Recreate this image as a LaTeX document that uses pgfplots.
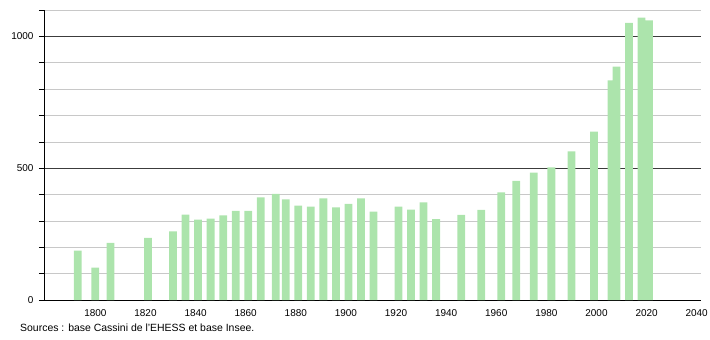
\documentclass[border=0pt]{standalone}
\usepackage{pgfplots}
\pgfplotsset{compat=1.18}
\usepackage{fontspec}
\setmainfont{Liberation Sans}
\definecolor{barg}{RGB}{172,228,172}
\definecolor{minorg}{RGB}{200,200,200}
\definecolor{majorg}{RGB}{60,60,60}
\begin{document}
\begin{tikzpicture}
\path[use as bounding box] (-44bp,-40bp) rectangle (666bp,300bp);
\begin{axis}[
  at={(0,0)}, anchor=south west,
  scale only axis, width=656.7bp, height=290bp,
  xmin=1779.5, xmax=2041.6, ymin=0, ymax=1100,
  axis lines*=left,
  axis line style={black, line width=0.8pt},
  xtick={1800,1820,...,2040},
  major x tick style={draw=none},
  ytick={0,500,1000},
  minor ytick={100,200,300,400,600,700,800,900,1100},
  tick align=outside,
  major tick length=5bp, minor tick length=5bp,
  y tick style={black, line width=0.6pt},
  ymajorgrids, yminorgrids,
  major y grid style={majorg, line width=0.6pt},
  minor y grid style={minorg, line width=0.6pt},
  /pgf/number format/assume math mode=true,
  /pgf/number format/1000 sep={},
  tick label style={font=\fontsize{10}{11}\selectfont},
  xticklabel style={yshift=-1.5bp},
  yticklabel style={xshift=-2bp},
  ybar, bar width=3.1, bar shift=0pt,
  clip=false,
]
\addplot[fill=barg, draw=none] coordinates {
(1793,187) (1800,123) (1806,217) (1821,236) (1831,260) (1836,324) (1841,305)
(1846,309) (1851,321) (1856,338) (1861,338) (1866,389) (1872,403) (1876,382)
(1881,358) (1886,354) (1891,385) (1896,351) (1901,365) (1906,385) (1911,335)
(1921,354) (1926,343) (1931,370) (1936,307) (1946,323) (1954,342) (1962,408)
(1968,452) (1975,483) (1982,503) (1990,564) (1999,639) (2006,833) (2008,885)
(2013,1051) (2018,1071) (2021,1061)
};
\end{axis}
\node[anchor=base west, font=\fontsize{10.5}{12}\selectfont, inner sep=0pt] at (-24bp,-31bp) {Sources : base Cassini de l'EHESS et base Insee.};
\end{tikzpicture}
\end{document}
